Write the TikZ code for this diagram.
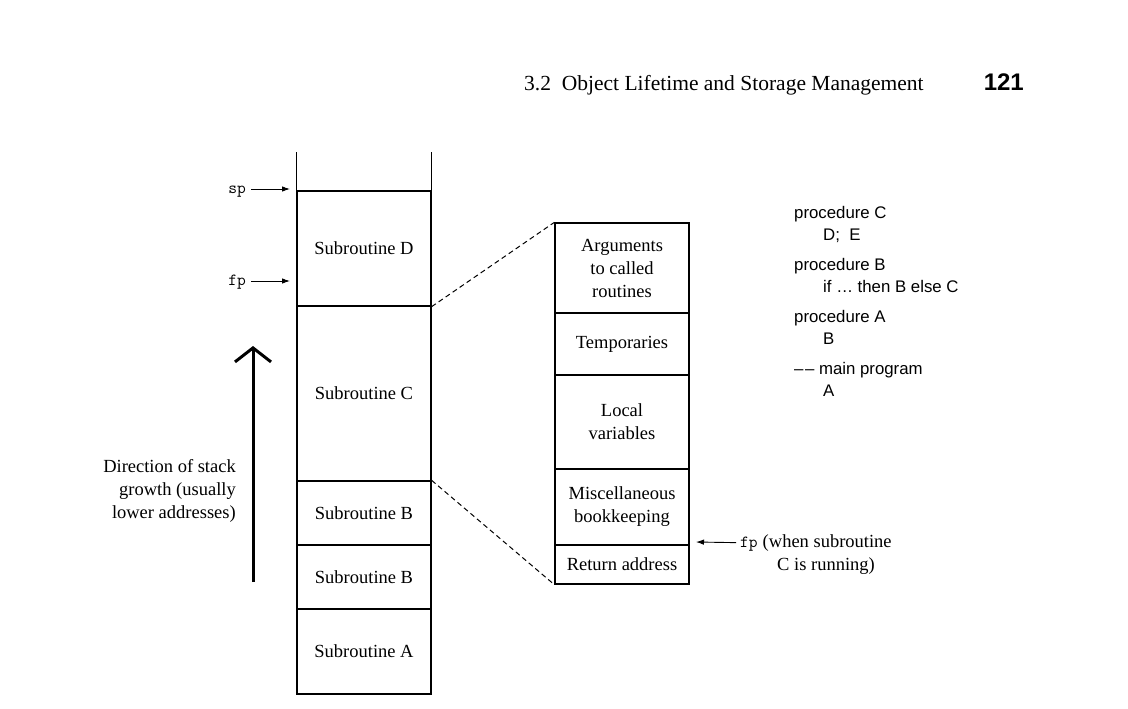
\documentclass[tikz,border=0pt]{standalone}
\usepackage{fontspec}
\setmainfont{Liberation Serif}
\newfontfamily\codefont{Liberation Sans}
\newfontfamily\headsans{Liberation Sans}
\setmonofont{Latin Modern Mono}
\usetikzlibrary{arrows.meta}
\begin{document}
\begin{tikzpicture}[x=1pt,y=-1pt,
  cell/.style={draw, line width=1.3pt, minimum width=134pt, inner sep=0pt,
    font=\fontsize{18.5}{23}\selectfont, align=center},
  lbl/.style={inner sep=0pt, font=\fontsize{18.5}{23}\selectfont},
  ptr/.style={line width=0.9pt, -{Latex[length=8pt,width=5.5pt]}},
  code/.style={inner sep=0pt, anchor=base west, font=\codefont\fontsize{16.8}{22}\selectfont},
  tt/.style={inner sep=0pt, font=\ttfamily\fontsize{17}{23}\selectfont}
]
\useasboundingbox (0,0) rectangle (1128,709);

% header
\node[inner sep=0pt, anchor=base west, font=\fontsize{21.5}{24}\selectfont] (head) at (524,91) {3.2\enspace Object Lifetime and Storage Management};
\node[inner sep=0pt, anchor=base east, font=\headsans\bfseries\fontsize{24}{26}\selectfont] (pnum) at (1024,91) {121};

% stack
\node[cell, minimum height=115pt] (D) at (364,248.5) {Subroutine D};
\node[cell, minimum height=175pt] (C) at (364,393.5) {Subroutine C};
\node[cell, minimum height=64pt] (B1) at (364,513) {Subroutine B};
\node[cell, minimum height=64pt] (B2) at (364,577) {Subroutine B};
\node[cell, minimum height=85pt] (A) at (364,651.5) {Subroutine A};
\draw[line width=1.3pt] (D.north west) -- ++(0,-38);
\draw[line width=1.3pt] (D.north east) -- ++(0,-38);

% frame
\node[cell, minimum height=90pt] (args) at (622,268) {Arguments\\to called\\routines};
\node[cell, minimum height=62pt] (temp) at (622,344) {Temporaries};
\node[cell, minimum height=94pt] (loc) at (622,422) {Local\\variables};
\node[cell, minimum height=76pt] (misc) at (622,507) {Miscellaneous\\bookkeeping};
\node[cell, minimum height=39pt] (ret) at (622,564.5) {Return address};

\draw[line width=1pt, dash pattern=on 5pt off 3.5pt] (D.south east) -- (args.north west);
\draw[line width=1pt, dash pattern=on 5pt off 3.5pt] (B1.north east) -- (ret.south west);

% sp / fp pointers
\node[tt, anchor=base east] (sp) at (246,193) {sp};
\coordinate (sptip) at (290,189);
\draw[ptr] (251,189) -- (sptip);
\node[tt, anchor=base east] (fp) at (246,285) {fp};
\coordinate (fptip) at (290,281);
\draw[ptr] (251,281) -- (fptip);

% growth arrow
\coordinate (gbot) at (253,582);
\coordinate (gtop) at (253,346);
\draw[line width=3pt, -{Straight Barb[length=14pt,width=36pt,line width=3pt]}] (gbot) -- (gtop);
\node[lbl, anchor=north east, align=right] (dir) at (236,459) {Direction of stack\\growth (usually\\lower addresses)};

% fp when C running
\node[tt, anchor=base west] (fpr) at (740,547) {fp};
\node[lbl, anchor=base west] (fprt) at (fpr.base east) {\ (when subroutine};
\node[lbl, anchor=base west] (fprt2) at (777,570) {C is running)};
\coordinate (rtip) at (696,542);
\draw[ptr] (fpr.west) ++(-4,-1) -- (rtip);

% code
\node[code] (c1) at (794,218) {procedure C};
\node[code] (c2) at (823,240) {D;\ \ E};
\node[code] (c3) at (794,270) {procedure B};
\node[code] (c4) at (823,292) {if \dots\ then B else C};
\node[code] (c5) at (794,322) {procedure A};
\node[code] (c6) at (823,344) {B};
\node[code] (c7) at (794,374) {–\kern1.5pt– main program};
\node[code] (c8) at (823,396) {A};
\end{tikzpicture}
\end{document}
